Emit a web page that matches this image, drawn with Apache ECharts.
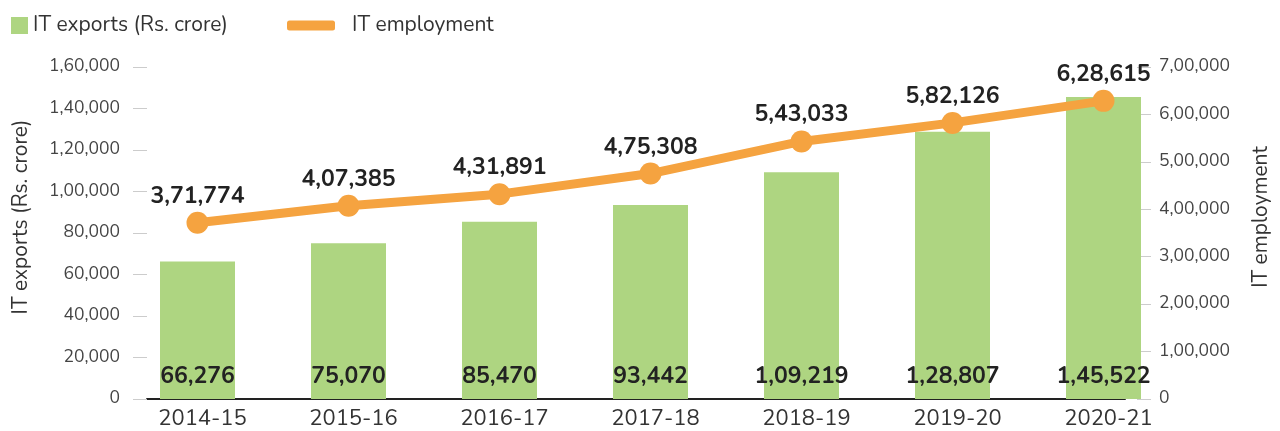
<!DOCTYPE html>
<html><head><meta charset="utf-8">
<script src="https://cdn.jsdelivr.net/npm/echarts@6/dist/echarts.min.js"></script>
<style>html,body{margin:0;padding:0;background:#fff}#c{width:1280px;height:431px}</style>
</head><body><div id="c"></div>
<script>
const categories = ['2014-15','2015-16','2016-17','2017-18','2018-19','2019-20','2020-21'];
const itExports = [66276, 75070, 85470, 93442, 109219, 128807, 145522];
const itEmployment = [371774, 407385, 431891, 475308, 543033, 582126, 628615];
const leftTicks = {min: 0, max: 160000, interval: 20000};
const rightTicks = {min: 0, max: 700000, interval: 100000};

function inr(n){
  const s = String(Math.round(n));
  if (s.length <= 3) return s;
  const last3 = s.slice(-3);
  let rest = s.slice(0, -3);
  rest = rest.replace(/\B(?=(\d{2})+(?!\d))/g, ',');
  return rest + ',' + last3;
}
const FONT = '"Nunito","Open Sans","Noto Sans",sans-serif';
const chart = echarts.init(document.getElementById('c'), null, {renderer:'canvas'});
const tickStyle = {show:true, length:14, lineStyle:{color:'#cccccc', width:1}};
chart.setOption({
  animation:false,
  textStyle:{fontFamily:FONT},
  legend:[
    {left:6, top:10, itemWidth:17, itemHeight:17, itemGap:50,
     textStyle:{fontSize:21, color:'#333', fontFamily:FONT},
     data:[{name:'IT exports (Rs. crore)', icon:'rect'}]},
    {left:282, top:10, itemWidth:48, itemHeight:10,
     textStyle:{fontSize:21, color:'#333', fontFamily:FONT, padding:[0,0,0,12]},
     data:[{name:'IT employment', icon:'roundRect'}]}
  ],
  grid:[
    {left:147, right:126, top:67, bottom:32},
    {left:122, right:101, top:67, bottom:32}
  ],
  xAxis:[
    {gridIndex:0, type:'category', data:categories,
     axisLine:{show:true, lineStyle:{color:'#222', width:2}},
     axisTick:{show:false}, axisLabel:{show:false}},
    {gridIndex:1, type:'category', data:categories,
     axisLine:{show:false}, axisTick:{show:false},
     axisLabel:{fontSize:22, color:'#333', margin:10, fontFamily:FONT, padding:[0,0,0,10]}}
  ],
  yAxis:[
    {gridIndex:0, type:'value', min:leftTicks.min, max:leftTicks.max, interval:leftTicks.interval,
     name:'IT exports (Rs. crore)', nameLocation:'middle', nameGap:115, nameRotate:90,
     nameTextStyle:{fontSize:21, color:'#333', fontFamily:FONT, padding:[0,0,0,32]},
     axisLine:{show:false}, axisTick:tickStyle, splitLine:{show:false},
     axisLabel:{fontSize:17.5, color:'#444', margin:27, formatter:inr, fontFamily:FONT}},
    {gridIndex:0, type:'value', position:'right', offset:12, min:rightTicks.min, max:rightTicks.max, interval:rightTicks.interval,
     name:'IT employment', nameLocation:'middle', nameGap:114, nameRotate:90,
     nameTextStyle:{fontSize:21, color:'#333', fontFamily:FONT, padding:[0,0,0,32]},
     axisLine:{show:false}, axisTick:tickStyle, splitLine:{show:false},
     axisLabel:{fontSize:17.5, color:'#444', margin:22, formatter:inr, fontFamily:FONT}},
    {gridIndex:1, type:'value', min:leftTicks.min, max:leftTicks.max, interval:leftTicks.interval, show:false, splitLine:{show:false}},
    {gridIndex:1, type:'value', min:rightTicks.min, max:rightTicks.max, interval:rightTicks.interval, show:false, splitLine:{show:false}}
  ],
  series:[
    {name:'IT exports (Rs. crore)', type:'bar', xAxisIndex:1, yAxisIndex:2, data:itExports,
     barWidth:75, itemStyle:{color:'#aed581'}, z:2,
     label:{show:true, position:'insideBottom', distance:10, fontSize:23, fontWeight:'bold', color:'#222',
            fontFamily:FONT, formatter:p=>inr(p.value)}},
    {name:'IT employment', type:'line', xAxisIndex:1, yAxisIndex:3, data:itEmployment,
     symbol:'circle', symbolSize:22, lineStyle:{color:'#f5a340', width:9}, itemStyle:{color:'#f5a340'}, z:5,
     label:{show:true, position:'top', distance:3, fontSize:23, fontWeight:'bold', color:'#222',
            fontFamily:FONT, formatter:p=>inr(p.value)}}
  ]
});
</script></body></html>
